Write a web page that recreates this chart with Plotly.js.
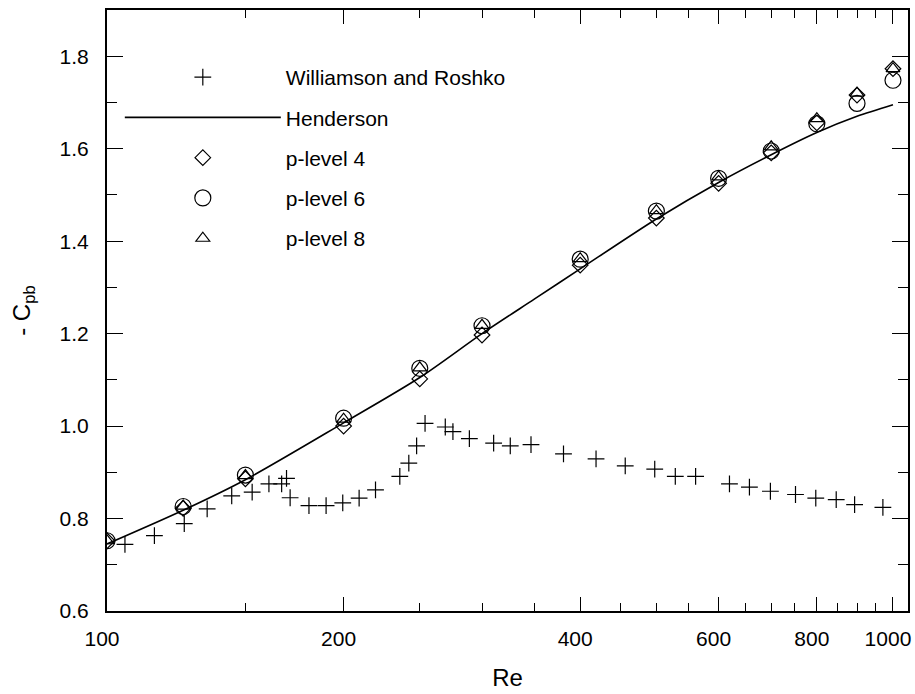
<!DOCTYPE html>
<html>
<head>
<meta charset="utf-8">
<script src="https://cdn.plot.ly/plotly-3.0.1.min.js"></script>
<style>
  html, body { margin: 0; padding: 0; background: #fff; }
  #chart { width: 915px; height: 694px; }
</style>
</head>
<body>
<div id="chart"></div>
<script>
// Williamson and Roshko (experiment)
const wrRe  = [105.4, 114.9, 125.4, 134.1, 144.1, 153.0, 160.7, 166.8, 169.2, 171.0,
               180.7, 190.0, 199.5, 209.3, 219.6, 235.8, 242.1, 247.7, 253.9, 269.4,
               275.5, 289.1, 310.4, 325.9, 346.3, 380.9, 419.0, 456.4, 497.6, 528.5,
               560.9, 619.4, 656.7, 698.3, 751.6, 797.6, 846.8, 893.7, 970.9];
const wrCpb = [0.744, 0.763, 0.789, 0.821, 0.849, 0.857, 0.875, 0.875, 0.887, 0.845,
               0.828, 0.828, 0.834, 0.844, 0.862, 0.891, 0.920, 0.957, 1.006, 0.998,
               0.988, 0.973, 0.963, 0.957, 0.960, 0.940, 0.929, 0.914, 0.907, 0.891,
               0.891, 0.875, 0.868, 0.859, 0.852, 0.844, 0.841, 0.830, 0.824];

// Henderson fit
const hRe  = [100, 125, 150, 200, 250, 300, 350, 400, 500, 600, 700, 800, 900, 1000];
const hCpb = [0.745, 0.818, 0.884, 1.007, 1.105, 1.200, 1.275, 1.340, 1.448, 1.527, 1.587, 1.635, 1.670, 1.695];

// Simulations
const simRe = [100, 125, 150, 200, 250, 300, 400, 500, 600, 700, 800, 900, 1000];
const p4Cpb = [0.752, 0.822, 0.886, 1.000, 1.102, 1.197, 1.348, 1.450, 1.525, 1.591, 1.656, 1.716, 1.773];
const p6Cpb = [0.752, 0.826, 0.894, 1.017, 1.125, 1.217, 1.361, 1.465, 1.536, 1.595, 1.654, 1.698, 1.748];
const p8Cpb = [0.752, 0.827, 0.893, 1.015, 1.126, 1.218, 1.362, 1.466, 1.539, 1.604, 1.665, 1.720, 1.773];

// Axis ticks
const xTickVals = [100, 200, 400, 600, 800, 1000];
const xTickText = ['100', '200', '400', '600', '800', '1000'];
const xMinorVals = [150, 250, 300, 350, 450, 500, 550, 650, 700, 750, 850, 900, 950];
const yTickVals = [0.6, 0.8, 1.0, 1.2, 1.4, 1.6, 1.8];
const yTickText = ['0.6', '0.8', '1.0', '1.2', '1.4', '1.6', '1.8'];

const FONT = 'Liberation Sans, Arial, Helvetica, sans-serif';
const NB = '\u00a0';

const traces = [
  {
    x: wrRe, y: wrCpb, mode: 'markers', type: 'scatter', name: 'Williamson and Roshko',
    legendgroup: 'a',
    marker: { symbol: 'cross-thin-open', size: 12, color: '#000', line: { color: '#000', width: 1.2 } }
  },
  {
    x: hRe, y: hCpb, mode: 'lines', type: 'scatter', name: 'Henderson',
    legendgroup: 'b',
    line: { color: '#000', width: 1.6, shape: 'spline', smoothing: 0.8 }
  },
  {
    x: simRe, y: p4Cpb, mode: 'markers', type: 'scatter', name: 'p-level 4',
    legendgroup: 'c',
    marker: { symbol: 'diamond-open', size: 12, color: '#000', line: { color: '#000', width: 1.2 } }
  },
  {
    x: simRe, y: p6Cpb, mode: 'markers', type: 'scatter', name: 'p-level 6',
    legendgroup: 'd',
    marker: { symbol: 'circle-open', size: 16, color: '#000', line: { color: '#000', width: 1.2 } }
  },
  {
    x: simRe, y: p8Cpb, mode: 'markers', type: 'scatter', name: 'p-level 8',
    legendgroup: 'e',
    marker: { symbol: 'triangle-up-open', size: 12, color: '#000', line: { color: '#000', width: 1.2 } }
  }
];

const layout = {
  width: 915, height: 694,
  margin: { l: 107, r: 7, t: 10, b: 83 },
  paper_bgcolor: '#fff', plot_bgcolor: '#fff',
  font: { family: FONT, size: 21, color: '#000' },
  showlegend: true,
  legend: {
    x: 0.016, y: 0.922, xanchor: 'left', yanchor: 'top',
    bgcolor: 'rgba(0,0,0,0)', borderwidth: 0,
    font: { family: FONT, size: 21, color: '#000' },
    itemwidth: 156,
    traceorder: 'grouped',
    tracegroupgap: 10
  },
  xaxis: {
    type: 'log',
    range: [2, Math.log10(1045)],
    tickmode: 'array', tickvals: xTickVals, ticktext: xTickText,
    ticks: 'inside', ticklen: 14, tickwidth: 1, tickcolor: '#000',
    minor: { tickmode: 'array', tickvals: xMinorVals, ticks: 'inside', ticklen: 8, tickwidth: 1, tickcolor: '#000', showgrid: false },
    showline: true, linecolor: '#000', linewidth: 2, mirror: 'allticks',
    showgrid: false, zeroline: false,
    tickfont: { family: FONT, size: 21, color: '#000' },
    ticklabelstandoff: 8,
    ticklabelshift: -5,
    ticklabeloverflow: 'allow',
    title: { text: 'Re', font: { family: FONT, size: 24, color: '#000' }, standoff: 20 },
    automargin: false
  },
  yaxis: {
    range: [0.6, 1.9],
    tickmode: 'array', tickvals: yTickVals, ticktext: yTickText,
    ticks: 'inside', ticklen: 16, tickwidth: 1, tickcolor: '#000',
    minor: { tickmode: 'linear', tick0: 0.7, dtick: 0.2, ticks: 'inside', ticklen: 10, tickwidth: 1, tickcolor: '#000', showgrid: false },
    showline: true, linecolor: '#000', linewidth: 2, mirror: 'allticks',
    showgrid: false, zeroline: false,
    tickfont: { family: FONT, size: 21, color: '#000' },
    ticklabelstandoff: 12,
    title: { text: NB.repeat(7) + '- C<sub>pb</sub>', font: { family: FONT, size: 24, color: '#000' }, standoff: 22 },
    automargin: false
  }
};

Plotly.newPlot('chart', traces, layout, { displayModeBar: false, staticPlot: true });
</script>
</body>
</html>
